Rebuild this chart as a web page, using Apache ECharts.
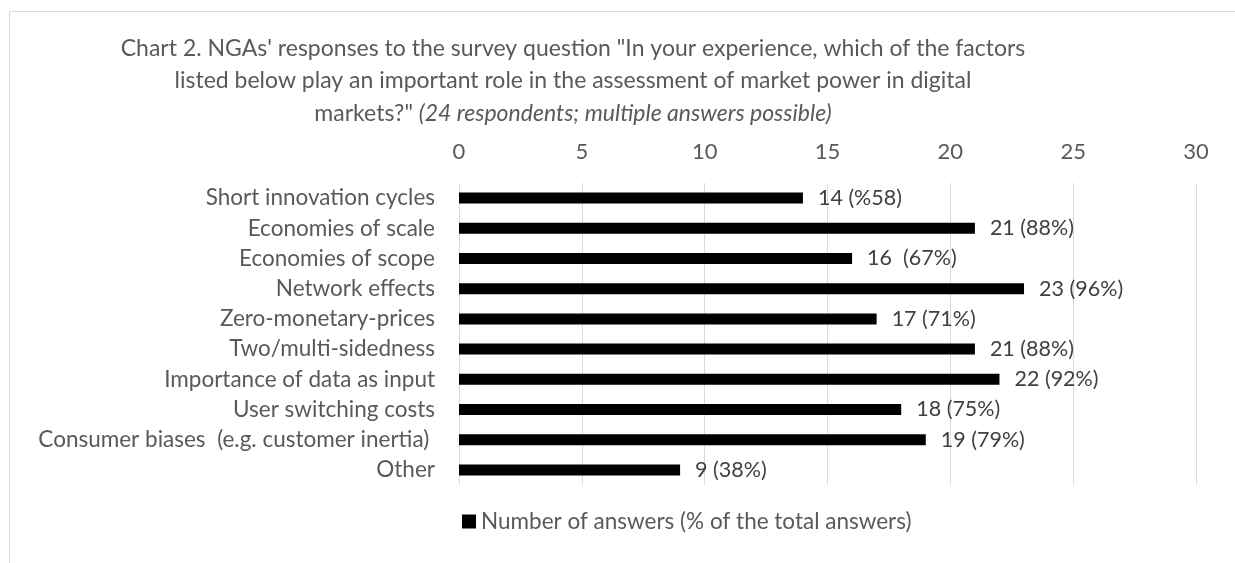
<!DOCTYPE html>
<html>
<head>
<meta charset="utf-8">
<style>
  html, body { margin: 0; padding: 0; background: #fff; }
  #chart { width: 1235px; height: 563px; }
</style>
<script src="https://cdn.jsdelivr.net/npm/echarts@6/dist/echarts.min.js"></script>
</head>
<body>
<div id="chart"></div>
<script>
// Survey factors, listed top to bottom
const factors = [
  'Short innovation cycles',
  'Economies of scale',
  'Economies of scope',
  'Network effects',
  'Zero-monetary-prices',
  'Two/multi-sidedness',
  'Importance of data as input',
  'User switching costs',
  'Consumer biases  (e.g. customer inertia) ',
  'Other'
];
// Number of answers for each factor
const answers = [14, 21, 16, 23, 17, 21, 22, 18, 19, 9];
// Value labels as printed beside each bar
const answerLabels = [
  '14 (%58)', '21 (88%)', '16  (67%)', '23 (96%)', '17 (71%)',
  '21 (88%)', '22 (92%)', '18 (75%)', '19 (79%)', '9 (38%)'
];
const xTicks = { min: 0, max: 30, interval: 5 };
const seriesName = 'Number of answers (% of the total answers)';

const FONT = 'Lato, "Liberation Sans", Arial, sans-serif';
const chart = echarts.init(document.getElementById('chart'), null, { renderer: 'canvas' });

chart.setOption({
  backgroundColor: '#ffffff',
  animation: false,
  textStyle: { fontFamily: FONT },
  title: {
    text: 'Chart 2. NGAs\' responses to the survey question "In your experience, which of the factors\n' +
          'listed below play an important role in the assessment of market power in digital\n' +
          'markets?" {i|(24 respondents; multiple answers possible)}',
    left: 573,
    top: 32,
    padding: 0,
    textAlign: 'center',
    textStyle: {
      fontFamily: FONT,
      fontSize: 23,
      fontWeight: 'normal',
      color: '#595959',
      lineHeight: 32.5,
      rich: {
        i: { fontFamily: FONT, fontSize: 23, fontStyle: 'italic', color: '#595959', lineHeight: 32.5 }
      }
    }
  },
  legend: {
    left: 462,
    top: 510,
    padding: 0,
    itemWidth: 14,
    itemHeight: 14,
    itemGap: 10,
    icon: 'rect',
    textStyle: { fontFamily: FONT, fontSize: 22.5, color: '#595959' },
    data: [seriesName]
  },
  grid: { left: 459, right: 39, top: 183, bottom: 78, containLabel: false },
  xAxis: {
    type: 'value',
    position: 'top',
    min: xTicks.min,
    max: xTicks.max,
    interval: xTicks.interval,
    axisLine: { show: false },
    axisTick: { show: false },
    axisLabel: { fontFamily: FONT, fontSize: 22, color: '#595959', margin: 20 },
    splitLine: { show: true, lineStyle: { color: '#d9d9d9', width: 1 } }
  },
  yAxis: {
    type: 'category',
    data: factors,
    inverse: true,
    axisLine: { show: false },
    axisTick: { show: false },
    axisLabel: { fontFamily: FONT, fontSize: 22.5, color: '#595959', margin: 24 },
    splitLine: { show: false }
  },
  series: [{
    name: seriesName,
    type: 'bar',
    data: answers,
    barWidth: 11,
    itemStyle: { color: '#000000' },
    label: {
      show: true,
      position: 'right',
      distance: 15,
      fontFamily: FONT,
      fontSize: 21.5,
      color: '#404040',
      formatter: p => answerLabels[p.dataIndex]
    }
  }],
  graphic: [{
    type: 'polyline',
    silent: true,
    shape: { points: [[9.5, 563], [9.5, 11.5], [1235, 11.5]] },
    style: { stroke: '#d9d9d9', lineWidth: 1, fill: null }
  }]
});
</script>
</body>
</html>
